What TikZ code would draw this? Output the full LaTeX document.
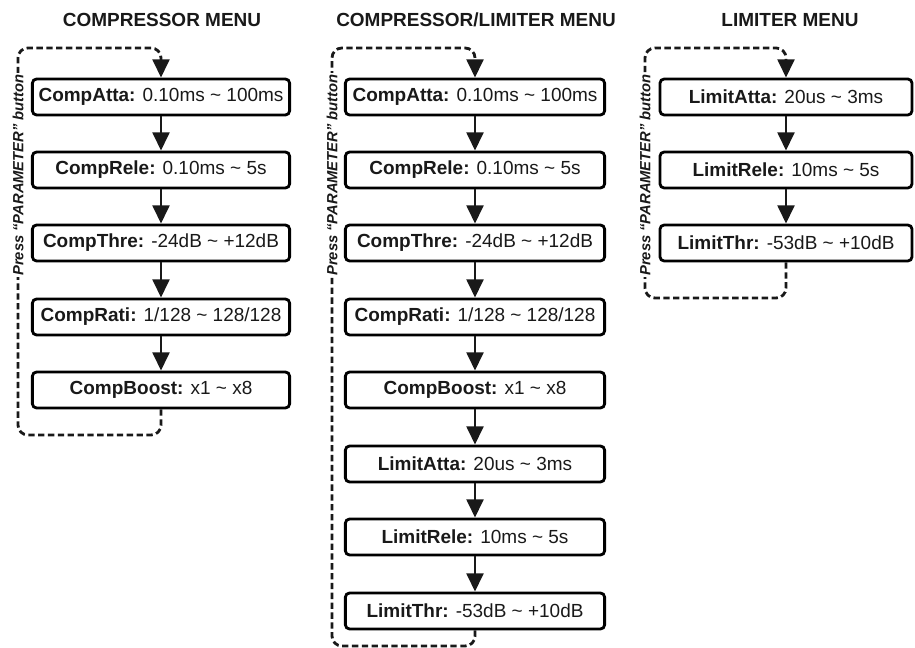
\documentclass[tikz,border=0pt]{standalone}
\usepackage{fontspec}
\setmainfont{Liberation Sans}
\usetikzlibrary{arrows.meta}
\begin{document}
\begin{tikzpicture}[x=0.025cm, y=-0.025cm,
  param/.style={
    draw, rounded corners=3pt,
    minimum width=#1,
    minimum height=0.9cm,
    inner sep=0pt,
    line width=2pt,
    text=black!90,
    font=\fontsize{13.5}{16}\selectfont
  },
  heading/.style={font=\bfseries\fontsize{13.5}{16}\selectfont, text=black!90},
  arr/.style={-{Triangle[length=13pt,width=12pt]}, line width=2pt, black!90},
  cycleback/.style={-{Triangle[length=13pt,width=12pt]}, line width=2pt, black!90,
    dash pattern=on 4.5pt off 2.5pt, rounded corners=7pt},
  press/.style={rotate=90, fill=white, inner sep=1pt,
    font=\bfseries\itshape\fontsize{10.5}{12}\selectfont, text=black!90}
]
  \useasboundingbox (0,0) rectangle (915,648);
  % Titles
  \node[heading] (t1) at (162,20) {COMPRESSOR MENU};
  \node[heading] (t2) at (476,20) {COMPRESSOR/LIMITER MENU};
  \node[heading] (t3) at (790,20) {LIMITER MENU};

  % Compressor menu
  \node[param=6.43cm] (c1a) at (161, 97) {\textbf{CompAtta:} 0.10ms \textasciitilde{} 100ms};
  \node[param=6.43cm] (c1b) at (161,170) {\textbf{CompRele:} 0.10ms \textasciitilde{} 5s};
  \node[param=6.43cm] (c1c) at (161,243) {\textbf{CompThre:} -24dB \textasciitilde{} +12dB};
  \node[param=6.43cm] (c1d) at (161,317) {\textbf{CompRati:} 1/128 \textasciitilde{} 128/128};
  \node[param=6.43cm] (c1e) at (161,390) {\textbf{CompBoost:} x1 \textasciitilde{} x8};
  \draw[arr] (c1a) -- (c1b);
  \draw[arr] (c1b) -- (c1c);
  \draw[arr] (c1c) -- (c1d);
  \draw[arr] (c1d) -- (c1e);
  \coordinate (l1low)  at (18,435);
  \coordinate (l1high) at (18,48);
  \draw[cycleback] (c1e.south) |- (l1low) -- (l1high) -| (c1a.north);
  \node[press] (p1) at (18,175) {Press “PARAMETER” button};

  % Compressor/limiter menu
  \node[param=6.48cm] (c2a) at (475, 97) {\textbf{CompAtta:} 0.10ms \textasciitilde{} 100ms};
  \node[param=6.48cm] (c2b) at (475,170) {\textbf{CompRele:} 0.10ms \textasciitilde{} 5s};
  \node[param=6.48cm] (c2c) at (475,243) {\textbf{CompThre:} -24dB \textasciitilde{} +12dB};
  \node[param=6.48cm] (c2d) at (475,317) {\textbf{CompRati:} 1/128 \textasciitilde{} 128/128};
  \node[param=6.48cm] (c2e) at (475,390) {\textbf{CompBoost:} x1 \textasciitilde{} x8};
  \node[param=6.48cm] (c2f) at (475,464) {\textbf{LimitAtta:} 20us \textasciitilde{} 3ms};
  \node[param=6.48cm] (c2g) at (475,537) {\textbf{LimitRele:} 10ms \textasciitilde{} 5s};
  \node[param=6.48cm] (c2h) at (475,611) {\textbf{LimitThr:} -53dB \textasciitilde{} +10dB};
  \draw[arr] (c2a) -- (c2b);
  \draw[arr] (c2b) -- (c2c);
  \draw[arr] (c2c) -- (c2d);
  \draw[arr] (c2d) -- (c2e);
  \draw[arr] (c2e) -- (c2f);
  \draw[arr] (c2f) -- (c2g);
  \draw[arr] (c2g) -- (c2h);
  \coordinate (l2low)  at (332,646);
  \coordinate (l2high) at (332,48);
  \draw[cycleback] (c2h.south) |- (l2low) -- (l2high) -| (c2a.north);
  \node[press] (p2) at (332,175) {Press “PARAMETER” button};

  % Limiter menu
  \node[param=6.3cm] (c3a) at (786, 97) {\textbf{LimitAtta:} 20us \textasciitilde{} 3ms};
  \node[param=6.3cm] (c3b) at (786,170) {\textbf{LimitRele:} 10ms \textasciitilde{} 5s};
  \node[param=6.3cm] (c3c) at (786,243) {\textbf{LimitThr:} -53dB \textasciitilde{} +10dB};
  \draw[arr] (c3a) -- (c3b);
  \draw[arr] (c3b) -- (c3c);
  \coordinate (l3low)  at (645,298);
  \coordinate (l3high) at (645,48);
  \draw[cycleback] (c3c.south) |- (l3low) -- (l3high) -| (c3a.north);
  \node[press] (p3) at (645,175) {Press “PARAMETER” button};
\end{tikzpicture}
\end{document}
